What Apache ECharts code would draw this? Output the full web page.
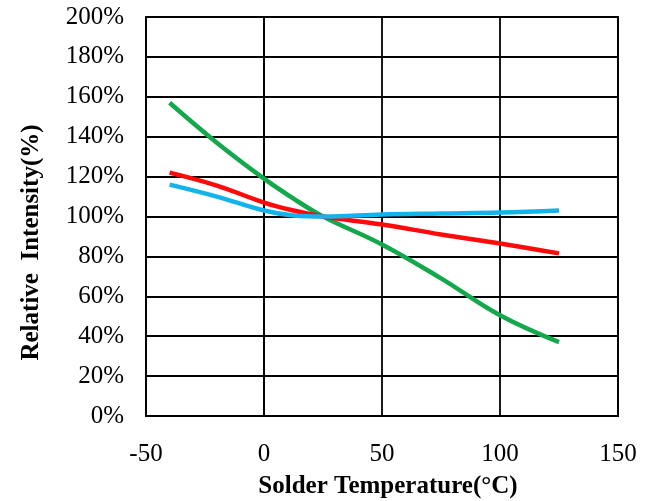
<!DOCTYPE html>
<html><head><meta charset="utf-8">
<script src="https://cdn.jsdelivr.net/npm/echarts@6/dist/echarts.min.js"></script>
<style>html,body{margin:0;padding:0;background:#fff}#c{width:648px;height:501px}</style>
</head><body><div id="c"></div>
<script>
const temps = [-40, -20, 0, 12.5, 25, 50, 75, 100, 125];
const green = [157, 137, 119, 109, 100, 86, 69, 50.5, 37];
const red = [122, 115.5, 107, 103, 100, 96, 91, 86.5, 81.5];
const blue = [116, 110, 103, 100.5, 100, 101, 101.5, 102, 103];
const xTicks = [-50, 0, 50, 100, 150];
const yTicks = [0, 20, 40, 60, 80, 100, 120, 140, 160, 180, 200];

const font = 'Liberation Serif';
function pairs(v){ return temps.map((t,i)=>[t, v[i]]); }
const chart = echarts.init(document.getElementById('c'));
const mk = (d, c) => ({type:'line', data:pairs(d), smooth:0.4, showSymbol:false, lineStyle:{color:c, width:4.5}, itemStyle:{color:c}, z:3});
chart.setOption({
  animation:false,
  grid:{left:146, right:30, top:17, bottom:85, show:true, borderColor:'#000', borderWidth:1.8, outerBoundsMode:'none', containLabel:false},
  xAxis:{type:'value', min:xTicks[0], max:xTicks[xTicks.length-1], interval:50,
    name:'Solder Temperature(°C)', nameLocation:'middle', nameGap:58,
    nameTextStyle:{fontFamily:font, fontSize:25, fontWeight:'bold', color:'#000', padding:[0,0,0,12]},
    axisLine:{lineStyle:{color:'#000', width:1.8}}, axisTick:{show:false},
    axisLabel:{fontFamily:font, fontSize:25, color:'#000', margin:26},
    splitLine:{lineStyle:{color:'#000', width:1.8}}},
  yAxis:{type:'value', min:yTicks[0], max:yTicks[yTicks.length-1], interval:20,
    name:'Relative  Intensity(%)', nameLocation:'middle', nameGap:102,
    nameTextStyle:{fontFamily:font, fontSize:25, fontWeight:'bold', color:'#000', padding:[0,52,0,0]},
    axisLine:{lineStyle:{color:'#000', width:1.8}}, axisTick:{show:false},
    axisLabel:{fontFamily:font, fontSize:25, color:'#000', margin:22, formatter:'{value}%'},
    splitLine:{lineStyle:{color:'#000', width:1.8}}},
  series:[mk(green,'#13a84b'), mk(red,'#ff0a0a'), mk(blue,'#13b4ec')]
});
</script></body></html>
